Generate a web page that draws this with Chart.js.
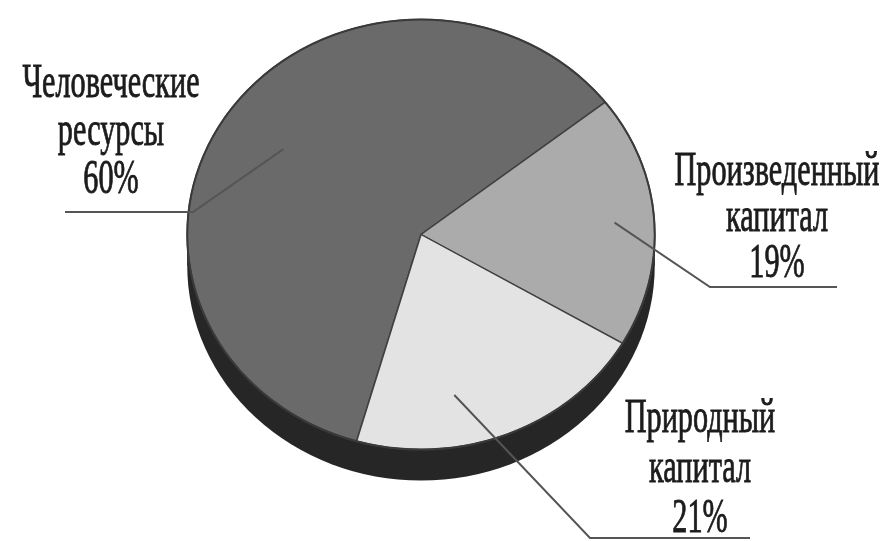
<!DOCTYPE html>
<html>
<head>
<meta charset="utf-8">
<script src="https://cdn.jsdelivr.net/npm/chart.js@4"></script>
<style>
  html, body { margin: 0; padding: 0; background: #ffffff; }
  #wrap { width: 889px; height: 541px; position: relative; }
</style>
</head>
<body>
<div id="wrap"><canvas id="c" width="889" height="541"></canvas></div>
<script>
// ---- data ----
const categories = ['Человеческие ресурсы', 'Произведенный капитал', 'Природный капитал'];
const shares = [60, 19, 21];
const labelLines = [['Человеческие', 'ресурсы'], ['Произведенный', 'капитал'], ['Природный', 'капитал']];
const sliceColors = ['#6a6a6a', '#ababab', '#e3e3e3'];

// ---- 3D elliptical pie + labels plugin ----
const pie3d = {
  id: 'pie3d',
  beforeDatasetsDraw(chart, args, opts) {
    const arc = chart.getDatasetMeta(0).data[0];
    if (!arc) return;
    const { x, y, outerRadius: r } = arc;
    const ctx = chart.ctx;
    const k = opts.squash, d = opts.depth;
    ctx.save();
    ctx.fillStyle = opts.sideColor;
    ctx.beginPath();
    ctx.ellipse(x, y + d, r, r * k, 0, 0, Math.PI * 2);
    ctx.fill();
    ctx.fillRect(x - r, y, 2 * r, d);
    ctx.restore();
    ctx.save();
    ctx.translate(x, y);
    ctx.scale(1, k);
    ctx.translate(-x, -y);
  },
  afterDatasetsDraw(chart, args, opts) {
    const ctx = chart.ctx;
    ctx.restore();
    const meta = chart.getDatasetMeta(0);
    const arc0 = meta.data[0];
    if (!arc0) return;
    const { x, y, outerRadius: r } = arc0;
    const k = opts.squash;
    // outline
    ctx.save();
    ctx.strokeStyle = '#3a3a3a';
    ctx.lineWidth = 2;
    ctx.beginPath();
    ctx.ellipse(x, y, r, r * k, 0, 0, Math.PI * 2);
    ctx.stroke();
    ctx.restore();

    // labels + leader lines
    const L = opts.labels;
    meta.data.forEach((arc, i) => {
      const cfg = L[i];
      const mid = (arc.startAngle + arc.endAngle) / 2 + cfg.angleShift * Math.PI / 180;
      const ax = x + cfg.frac * r * Math.cos(mid);
      const ay = y + cfg.frac * r * Math.sin(mid) * k;
      ctx.save();
      ctx.strokeStyle = '#555555';
      ctx.lineWidth = 2;
      ctx.beginPath();
      ctx.moveTo(ax, ay);
      ctx.lineTo(cfg.elbow[0], cfg.elbow[1]);
      ctx.lineTo(cfg.end, cfg.elbow[1]);
      ctx.stroke();
      ctx.restore();

      const lines = labelLines[i].concat([shares[i] + '%']);
      ctx.save();
      ctx.fillStyle = '#1c1c1c';
      ctx.strokeStyle = '#1c1c1c';
      ctx.lineWidth = opts.textStroke;
      ctx.font = opts.font;
      ctx.textAlign = 'center';
      ctx.textBaseline = 'alphabetic';
      lines.forEach((t, j) => {
        ctx.save();
        ctx.translate(cfg.cx, cfg.base + j * cfg.lh);
        ctx.scale(opts.textScaleX, 1);
        ctx.fillText(t, 0, 0);
        ctx.strokeText(t, 0, 0);
        ctx.restore();
      });
      ctx.restore();
    });
  }
};

new Chart(document.getElementById('c'), {
  type: 'pie',
  data: {
    labels: categories,
    datasets: [{
      data: shares,
      backgroundColor: sliceColors,
      borderColor: '#404040',
      borderWidth: 1.5
    }]
  },
  plugins: [pie3d],
  options: {
    responsive: false,
    animation: false,
    events: [],
    rotation: 196,
    layout: { padding: { left: 186, right: 233, top: 0, bottom: 72 } },
    plugins: {
      legend: { display: false },
      tooltip: { enabled: false },
      pie3d: {
        squash: 0.92,
        depth: 31,
        sideColor: '#262626',
        font: '48px "Liberation Serif", "DejaVu Serif", serif',
        textScaleX: 0.63,
        textStroke: 0.9,
        labels: [
          { cx: 111, base: 97, lh: 48, frac: 0.71, angleShift: 0, elbow: [193, 212], end: 65 },
          { cx: 777, base: 185, lh: 46, frac: 0.83, angleShift: 0, elbow: [710, 287], end: 837 },
          { cx: 700, base: 432, lh: 50, frac: 0.76, angleShift: 11, elbow: [590, 538], end: 750 }
        ]
      }
    }
  }
});
</script>
</body>
</html>
